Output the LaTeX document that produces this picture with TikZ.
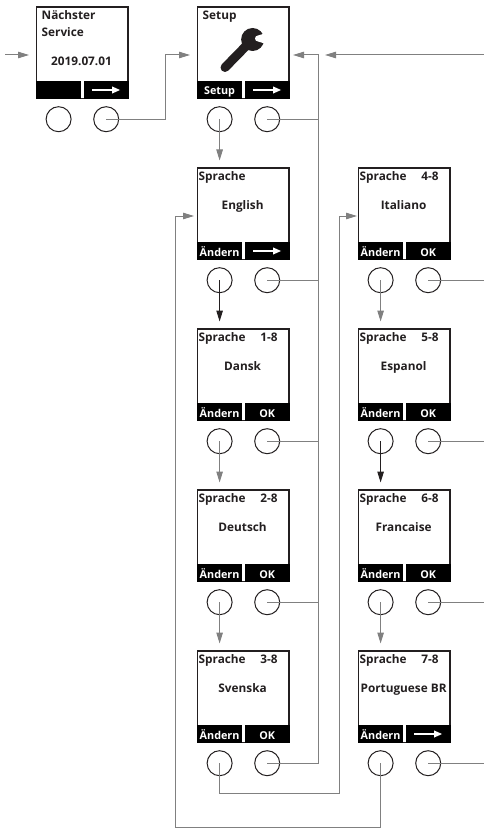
\documentclass[tikz,border=0pt]{standalone}
\usepackage{fontspec}
\setmainfont{Open Sans}
\usetikzlibrary{arrows.meta,positioning}
\definecolor{mnink}{HTML}{231F20}
\definecolor{mngrey}{HTML}{808080}
\tikzset{
  mn text/.style={font=\fontsize{11.8}{13}\selectfont\bfseries, text=mnink, inner sep=0pt,
    text height=8pt, text depth=2.5pt},
  mn screen/.style={draw=mnink, line width=1.6pt, minimum width=91.6pt, minimum height=91.6pt,
    inner sep=0pt, anchor=north west},
  mn key/.style={fill=black, text=white, minimum width=45.2pt, minimum height=18pt, inner sep=0pt,
    font=\fontsize{10.8}{12}\selectfont\bfseries, text height=10pt, text depth=0pt},
  mn button/.style={draw=mnink, line width=1pt, circle, minimum size=25pt, inner sep=0pt},
  mn link/.style={draw=mngrey, line width=1pt},
  mn arrow/.style={mn link, -{Triangle[length=11pt,width=6.5pt]}},
  mn back/.style={mn arrow, draw=mnink},
  mn glyph/.style={draw=white, line width=1.7pt, -{Triangle[length=8pt,width=6.5pt]}}
}
\begin{document}
\begin{tikzpicture}[mn text, x=1pt, y=-1pt]
  \useasboundingbox (0,0) rectangle (484,829);
  % screens and soft keys
  \foreach \n/\x/\y/\lkey/\rkey in {
    a/35.8/6//{},b/196.8/6/Setup/{},
    c/196.8/167/Ändern/{},d/196.8/328/Ändern/OK,e/196.8/489/Ändern/OK,f/196.8/650/Ändern/OK,
    g/357.8/167/Ändern/OK,h/357.8/328/Ändern/OK,i/357.8/489/Ändern/OK,j/357.8/650/Ändern/{}} {
    \node[mn screen] (\n) at (\x,\y) {};
    \node[mn key, anchor=south west] (\n l) at (\n.south west) {\lkey};
    \node[mn key, anchor=south east] (\n r) at (\n.south east) {\rkey};
    \node[mn button, below=7pt of \n l] (\n L) {};
    \node[mn button, below=7pt of \n r] (\n R) {};
  }
  \foreach \n in {a,b,c,j}
    \draw[mn glyph] ([xshift=-14pt]\n r.center) -- ([xshift=14pt]\n r.center);
  % titles
  \node[anchor=west] (at1) at (41.5,16.5) {Nächster};
  \node[anchor=west] (at2) at (41.5,33.7) {Service};
  \node (at3) at (81.5,62.5) {2019.07.01};
  \node[anchor=west] (bt1) at (202.5,16.5) {Setup};
  \foreach \n/\x/\y/\num/\lang in {
    c/196.8/167//English,d/196.8/328/1-8/Dansk,e/196.8/489/2-8/Deutsch,f/196.8/650/3-8/Svenska,
    g/357.8/167/4-8/Italiano,h/357.8/328/5-8/Espanol,i/357.8/489/6-8/Francaise,j/357.8/650/7-8/Portuguese BR} {
    \node[anchor=west] (\n t1) at (\x+1.7,\y+10.9) {Sprache};
    \node[anchor=east] (\n t2) at (\x+81,\y+10.9) {\num};
    \node (\n t3) at (\x+45.8,\y+40) {\lang};
  }
  % wrench
  \draw[mnink, line width=9pt, line cap=round] (225,67.5) -- (247,45);
  \fill[mnink] (252.6,39.5) circle[radius=11.5];
  \fill[white] (268,32.5) -- (258,35.5) arc[start angle=270, end angle=90, radius=3] -- (268,44.5) -- cycle;
  % connectors
  \coordinate (in) at (5,55);
  \coordinate (ina) at (29,55);
  \coordinate (inb) at (190,55);
  \coordinate (ab) at (165,55);
  \coordinate (bus) at (318,55);
  \coordinate (busb) at (293,55);
  \coordinate (rightin) at (484,55);
  \coordinate (rightout) at (325,55);
  \coordinate (cin) at (194,216);
  \coordinate (gin) at (357,216);
  \coordinate (floopa) at (339.5,793);
  \coordinate (floopb) at (175,827);
  \draw[mn arrow] (in) -- (ina);
  \draw[mn arrow] (aR.center) -| (ab) -- (inb);
  \draw[mn arrow] (rightin) -- (rightout);
  \draw[mn arrow] (fR.center) -| (bus) -- (busb);
  \foreach \n in {b,c,d,e}
    \draw[mn link] (\n R.center) -- (\n R.center -| bus);
  \foreach \n in {g,h,i,j}
    \draw[mn link] (\n R.center) -- (\n R.center -| rightin);
  \draw[mn arrow] (fL.center) |- (floopa) |- (gin);
  \draw[mn arrow] (jL.center) |- (floopb) |- (cin);
  \draw[mn arrow] (bL.center) -- ([yshift=6.5pt]c.north -| bL);
  \draw[mn back] (cL.center) -- ([yshift=6.5pt]d.north -| cL);
  \draw[mn arrow] (dL.center) -- ([yshift=6.5pt]e.north -| dL);
  \draw[mn arrow] (eL.center) -- ([yshift=6.5pt]f.north -| eL);
  \draw[mn arrow] (gL.center) -- ([yshift=6.5pt]h.north -| gL);
  \draw[mn back] (hL.center) -- ([yshift=6.5pt]i.north -| hL);
  \draw[mn arrow] (iL.center) -- ([yshift=6.5pt]j.north -| iL);
\end{tikzpicture}
\end{document}
